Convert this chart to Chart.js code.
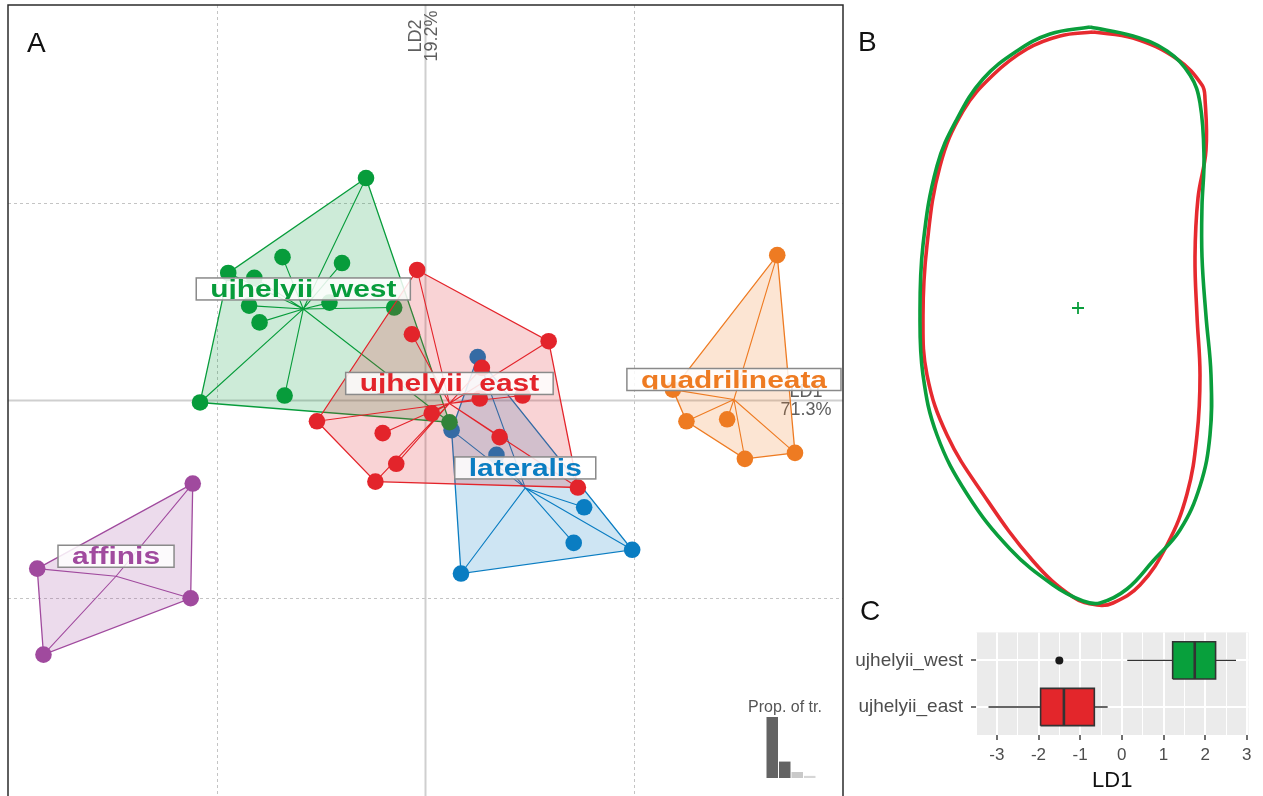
<!DOCTYPE html>
<html>
<head>
<meta charset="utf-8">
<script src="https://cdn.jsdelivr.net/npm/chart.js@4.4.1/dist/chart.umd.min.js"></script>
<style>
body { margin: 0; background: #fff; width: 1263px; height: 796px; overflow: hidden; position: relative; font-family: "Liberation Sans", Arial, sans-serif; }
canvas { position: absolute; }
#cA { left: 0; top: 0; }
#cEig { left: 740px; top: 696px; }
#cB { left: 850px; top: 0; }
#cC { left: 845px; top: 613px; }
.panel { position: absolute; font-size: 28px; line-height: 1; color: #111; }
</style>
</head>
<body>
<canvas id="cA" width="850" height="796"></canvas>
<canvas id="cEig" width="100" height="84"></canvas>
<canvas id="cB" width="413" height="620"></canvas>
<canvas id="cC" width="418" height="183"></canvas>
<div class="panel" style="left:27px; top:29px;">A</div>
<div class="panel" style="left:858px; top:28px;">B</div>
<div class="panel" style="left:860px; top:597px;">C</div>
<script>
// ---- Panel A: LDA scores per species ----
const groups = ['affinis', 'lateralis', 'quadrilineata', 'ujhelyii_west', 'ujhelyii_east'];
const groupColors = ['#a04a9e', '#0a7dc2', '#ee7b22', '#079c3b', '#e3242b'];

const affinisX = [-2.23, -3.72, -2.25, -3.66];
const affinisY = [-0.84, -1.70, -2.00, -2.57];
const lateralisX = [0.50, 0.25, 0.68, 1.52, 1.42, 1.98, 0.34];
const lateralisY = [0.44, -0.30, -0.55, -1.08, -1.44, -1.51, -1.75];
const quadrilineataX = [3.37, 2.37, 2.50, 2.89, 3.06, 3.54];
const quadrilineataY = [1.47, 0.11, -0.21, -0.19, -0.59, -0.53];
const westX = [-0.57, -1.37, -0.80, -1.89, -1.64, -0.92, -1.69, -1.59, -0.30, -1.35, -2.16, 0.23];
const westY = [2.25, 1.45, 1.39, 1.29, 1.24, 0.99, 0.96, 0.79, 0.94, 0.05, -0.02, -0.22];
const eastX = [-0.08, 1.18, -0.13, 0.54, 0.52, 0.93, -1.04, 0.06, -0.41, 0.71, -0.28, -0.48, 1.46];
const eastY = [1.32, 0.60, 0.67, 0.33, 0.02, 0.05, -0.21, -0.13, -0.33, -0.37, -0.64, -0.82, -0.88];

const axisNames = ['LD1', 'LD2'];
const axisPct = ['71.3%', '19.2%'];

// eigenvalue inset
const eigLabels = ['LD1', 'LD2', 'LD3', 'LD4'];
const eigProp = [71.3, 19.2, 7.0, 2.5];
const eigTitle = 'Prop. of tr.';

// ---- Panel B: mean outlines ----
const greenOutlineX = [0.12, 0.55, 0.89, 1.12, 1.22, 1.26, 1.24, 1.24, 1.28, 1.33, 1.32, 1.22, 1.02, 0.75, 0.49, 0.22, 0.05, -0.25, -0.68, -1.11, -1.41, -1.55, -1.58, -1.55, -1.41, -1.21, -0.95, -0.61, -0.28];
const greenOutlineY = [2.81, 2.72, 2.57, 2.33, 2.05, 1.50, 1.02, 0.51, -0.08, -0.67, -1.27, -1.78, -2.22, -2.53, -2.81, -2.95, -2.93, -2.77, -2.41, -1.86, -1.27, -0.67, -0.08, 0.63, 1.42, 1.89, 2.29, 2.57, 2.74];
const redOutlineX = [0.15, 0.55, 0.99, 1.24, 1.27, 1.28, 1.20, 1.17, 1.19, 1.22, 1.19, 1.09, 0.89, 0.62, 0.35, 0.19, -0.05, -0.45, -0.95, -1.31, -1.51, -1.55, -1.51, -1.38, -1.15, -0.85, -0.51, -0.18];
const redOutlineY = [2.76, 2.70, 2.49, 2.23, 2.09, 1.58, 1.10, 0.51, -0.08, -0.67, -1.27, -1.86, -2.37, -2.77, -2.95, -2.97, -2.89, -2.53, -1.86, -1.27, -0.67, -0.08, 0.63, 1.42, 1.97, 2.33, 2.59, 2.72];

// ---- Panel C: LD1 boxplot ----
const boxGroups = ['ujhelyii_east', 'ujhelyii_west'];
const boxMin = [-3.20, 0.13];
const boxQ1 = [-1.95, 1.22];
const boxMedian = [-1.39, 1.75];
const boxQ3 = [-0.66, 2.25];
const boxMax = [-0.34, 2.74];
const outlierGroup = ['ujhelyii_west'];
const outlierValue = [-1.50];
const boxColors = ['#e3262b', '#08a03c'];

Chart.defaults.font.family = '"Liberation Sans", Arial, sans-serif';
Chart.defaults.animation = false;
Chart.defaults.events = [];
Chart.defaults.layout.autoPadding = false;
Chart.defaults.plugins.legend.display = false;
Chart.defaults.plugins.tooltip.enabled = false;

function mean(a) { return a.reduce((s, v) => s + v, 0) / a.length; }

function alpha(hex, a) {
    const n = parseInt(hex.slice(1), 16);
    return `rgba(${n >> 16}, ${(n >> 8) & 255}, ${n & 255}, ${a})`;
}

// convex hull (monotone chain), closed
function hull(xs, ys) {
    const pts = xs.map((x, i) => ({ x, y: ys[i] })).sort((a, b) => a.x - b.x || a.y - b.y);
    const cross = (o, a, b) => (a.x - o.x) * (b.y - o.y) - (a.y - o.y) * (b.x - o.x);
    const lower = [], upper = [];
    for (const p of pts) {
        while (lower.length >= 2 && cross(lower[lower.length - 2], lower[lower.length - 1], p) <= 0) lower.pop();
        lower.push(p);
    }
    for (const p of pts.slice().reverse()) {
        while (upper.length >= 2 && cross(upper[upper.length - 2], upper[upper.length - 1], p) <= 0) upper.pop();
        upper.push(p);
    }
    const h = lower.slice(0, -1).concat(upper.slice(0, -1));
    h.push(h[0]);
    return h;
}

const groupX = [affinisX, lateralisX, quadrilineataX, westX, eastX];
const groupY = [affinisY, lateralisY, quadrilineataY, westY, eastY];

// build hull, star and points for each group (in paint order)
const datasetsA = [];
groups.forEach((g, i) => {
    const xs = groupX[i], ys = groupY[i];
    const cx = mean(xs), cy = mean(ys);
    const col = groupColors[i];
    datasetsA.push({
        type: 'line', data: hull(xs, ys), borderColor: col, borderWidth: 1.3,
        backgroundColor: alpha(col, 0.2), fill: 'shape', pointRadius: 0, tension: 0
    });
    const star = [];
    xs.forEach((x, j) => { star.push({ x: cx, y: cy }, { x, y: ys[j] }, { x: cx, y: null }); });
    datasetsA.push({
        type: 'line', data: star, borderColor: col, borderWidth: 1.1,
        pointRadius: 0, fill: false, spanGaps: false, tension: 0
    });
    datasetsA.push({
        type: 'scatter', data: xs.map((x, j) => ({ x, y: ys[j] })),
        backgroundColor: col, pointBackgroundColor: col, pointBorderWidth: 0, borderWidth: 0, pointRadius: 8.3
    });
});
// Chart.js paints lower order on top
datasetsA.forEach((d, i) => { d.order = datasetsA.length - i; });

const gridStep = 2;

const panelAPlugin = {
    id: 'panelA',
    beforeDatasetsDraw(chart) {
        const { ctx, chartArea: a, scales: { x, y } } = chart;
        ctx.save();
        // dashed grid
        ctx.strokeStyle = '#c4c4c4'; ctx.lineWidth = 1; ctx.setLineDash([3, 3]);
        for (let v = Math.ceil(x.min / gridStep) * gridStep; v <= x.max; v += gridStep) {
            if (v === 0 || v <= x.min || v >= x.max) continue;
            const px = Math.round(x.getPixelForValue(v)) + 0.5;
            ctx.beginPath(); ctx.moveTo(px, a.top); ctx.lineTo(px, a.bottom); ctx.stroke();
        }
        for (let v = Math.ceil(y.min / gridStep) * gridStep; v <= y.max; v += gridStep) {
            if (v === 0 || v <= y.min || v >= y.max) continue;
            const py = Math.round(y.getPixelForValue(v)) + 0.5;
            ctx.beginPath(); ctx.moveTo(a.left, py); ctx.lineTo(a.right, py); ctx.stroke();
        }
        // origin axes
        ctx.setLineDash([]);
        ctx.strokeStyle = '#cfcfcf'; ctx.lineWidth = 2;
        const x0 = x.getPixelForValue(0), y0 = y.getPixelForValue(0);
        ctx.beginPath(); ctx.moveTo(x0, a.top); ctx.lineTo(x0, a.bottom); ctx.stroke();
        ctx.beginPath(); ctx.moveTo(a.left, y0); ctx.lineTo(a.right, y0); ctx.stroke();
        // axis names
        ctx.fillStyle = '#5e5e5e';
        ctx.font = '18px "Liberation Sans", Arial, sans-serif';
        ctx.textAlign = 'center'; ctx.textBaseline = 'middle';
        ctx.save();
        ctx.translate(x0, a.top + 31);
        ctx.rotate(-Math.PI / 2);
        ctx.fillText(axisNames[1], 0, -9.5);
        ctx.fillText(axisPct[1], 0, 7);
        ctx.restore();
        ctx.fillText(axisNames[0], a.right - 37, y0 - 8);
        ctx.fillText(axisPct[0], a.right - 37, y0 + 10);
        ctx.restore();
    },
    afterDatasetsDraw(chart) {
        const { ctx, chartArea: a, scales: { x, y } } = chart;
        ctx.save();
        const stretch = 1.3;
        ctx.font = 'bold 23px "Liberation Sans", Arial, sans-serif';
        groups.forEach((g, i) => {
            const px = x.getPixelForValue(mean(groupX[i]));
            const py = y.getPixelForValue(mean(groupY[i]));
            const tw = ctx.measureText(g).width * stretch;
            const bw = tw + 28, bh = 22;
            const bx = px - bw / 2, by = py - 20 - bh / 2;
            ctx.fillStyle = 'rgba(255,255,255,0.85)';
            ctx.fillRect(bx, by, bw, bh);
            ctx.save();
            ctx.beginPath(); ctx.rect(bx, by, bw, bh - 1); ctx.clip();
            ctx.translate(px, by + bh - 3);
            ctx.scale(stretch, 1);
            ctx.textAlign = 'center'; ctx.textBaseline = 'alphabetic';
            ctx.fillStyle = groupColors[i];
            ctx.fillText(g, 0, 0);
            ctx.restore();
            ctx.strokeStyle = '#8a8a8a'; ctx.lineWidth = 1.5;
            ctx.strokeRect(bx, by, bw, bh);
        });
        // frame (bottom edge is cut off in the figure)
        ctx.strokeStyle = '#2b2b2b'; ctx.lineWidth = 1.5;
        ctx.beginPath();
        ctx.moveTo(a.left, a.bottom); ctx.lineTo(a.left, a.top);
        ctx.lineTo(a.right, a.top); ctx.lineTo(a.right, a.bottom);
        ctx.stroke();
        ctx.restore();
    }
};

new Chart(document.getElementById('cA'), {
    type: 'scatter',
    data: { datasets: datasetsA },
    options: {
        responsive: false,
        layout: { padding: { left: 8, right: 7, top: 5, bottom: 0 } },
        scales: {
            x: { display: false, min: -4, max: 4 },
            y: { display: false, min: -4, max: 4 }
        }
    },
    plugins: [panelAPlugin]
});

// eigenvalue inset, title drawn by hand so it is not squeezed into the bar width
const eigTitlePlugin = {
    id: 'eigTitle',
    afterDraw(chart) {
        const { ctx, chartArea: a } = chart;
        ctx.save();
        ctx.fillStyle = '#555';
        ctx.font = '16px "Liberation Sans", Arial, sans-serif';
        ctx.textAlign = 'center'; ctx.textBaseline = 'alphabetic';
        ctx.fillText(eigTitle, (a.left + a.right) / 2 - 6, a.top - 5);
        ctx.restore();
    }
};

new Chart(document.getElementById('cEig'), {
    type: 'bar',
    data: {
        labels: eigLabels,
        datasets: [{
            data: eigProp,
            backgroundColor: ['#636363', '#636363', '#c9c9c9', '#d6d6d6'],
            barPercentage: 0.92, categoryPercentage: 1
        }]
    },
    options: {
        responsive: false,
        layout: { padding: { left: 26, right: 24, top: 21, bottom: 2 } },
        scales: {
            x: { display: false },
            y: { display: false, min: 0, max: eigProp[0] }
        }
    },
    plugins: [eigTitlePlugin]
});

// ---- Panel B ----
const toPts = (xs, ys) => {
    const p = xs.map((x, i) => ({ x, y: ys[i] }));
    p.push(p[0]);
    return p;
};

new Chart(document.getElementById('cB'), {
    type: 'scatter',
    data: {
        datasets: [
            { data: [{ x: 0, y: 0 }], pointStyle: 'cross', pointRadius: 6, borderColor: '#0a9e3c', pointBorderColor: '#0a9e3c', pointBorderWidth: 1.8 },
            { data: toPts(greenOutlineX, greenOutlineY), showLine: true, borderColor: '#0a9e3c', borderWidth: 3.6, pointRadius: 0, tension: 0.4 },
            { data: toPts(redOutlineX, redOutlineY), showLine: true, borderColor: '#e62a2f', borderWidth: 3.6, pointRadius: 0, tension: 0.4 }
        ]
    },
    options: {
        responsive: false,
        layout: { padding: 0 },
        scales: {
            x: { display: false, min: -2.28, max: 1.85 },
            y: { display: false, min: -3.12, max: 3.08 }
        }
    }
});

// ---- Panel C ----
const half = 0.4;
const datasetsC = [];
boxGroups.forEach((g, i) => {
    const r = i + 1;
    datasetsC.push({
        type: 'line', borderColor: '#333', borderWidth: 1.3, pointRadius: 0, spanGaps: false,
        data: [{ x: boxMin[i], y: r }, { x: boxQ1[i], y: r }, { x: boxQ1[i], y: null },
               { x: boxQ3[i], y: r }, { x: boxMax[i], y: r }]
    });
    datasetsC.push({
        type: 'line', borderColor: '#333', borderWidth: 1.6, pointRadius: 0,
        backgroundColor: boxColors[i], fill: 'shape',
        data: [{ x: boxQ1[i], y: r - half }, { x: boxQ3[i], y: r - half }, { x: boxQ3[i], y: r + half },
               { x: boxQ1[i], y: r + half }, { x: boxQ1[i], y: r - half }]
    });
    datasetsC.push({
        type: 'line', borderColor: '#333', borderWidth: 2.6, pointRadius: 0,
        data: [{ x: boxMedian[i], y: r - half }, { x: boxMedian[i], y: r + half }]
    });
});
datasetsC.push({
    type: 'scatter', pointRadius: 4, backgroundColor: '#1a1a1a', pointBorderWidth: 0,
    data: outlierValue.map((v, i) => ({ x: v, y: boxGroups.indexOf(outlierGroup[i]) + 1 }))
});
datasetsC.forEach((d, i) => { d.order = datasetsC.length - i; });

const panelBg = {
    id: 'panelBg',
    beforeDraw(chart) {
        const { ctx, chartArea: a } = chart;
        ctx.save();
        ctx.fillStyle = '#ebebeb';
        ctx.fillRect(a.left, a.top, a.right - a.left, a.bottom - a.top);
        ctx.restore();
    }
};

new Chart(document.getElementById('cC'), {
    type: 'scatter',
    data: { datasets: datasetsC },
    options: {
        responsive: false,
        layout: { padding: { left: 0, right: 14.5, top: 10, bottom: 0 } },
        scales: {
            x: {
                min: -3.5, max: 3.04,
                afterFit: s => { s.height = 61; },
                border: { display: false },
                ticks: {
                    stepSize: 0.5, includeBounds: false, autoSkip: false, maxRotation: 0,
                    callback: v => Number.isInteger(v) ? String(v) : '',
                    color: '#4d4d4d', font: { size: 17 }, padding: 5
                },
                grid: {
                    color: '#ffffff',
                    lineWidth: c => Number.isInteger(c.tick.value) ? 2 : 1,
                    tickColor: c => Number.isInteger(c.tick.value) ? '#333' : 'rgba(0,0,0,0)',
                    tickLength: 5, tickWidth: 1.4
                },
                title: { display: true, text: 'LD1', color: '#111', font: { size: 22 }, padding: { top: 0, bottom: 2 } }
            },
            y: {
                min: 0.4, max: 2.6,
                afterFit: s => { s.width = 131; },
                afterBuildTicks: s => { s.ticks = boxGroups.map((g, i) => ({ value: i + 1 })); },
                border: { display: false },
                ticks: { callback: v => boxGroups[v - 1], color: '#4d4d4d', font: { size: 19 }, padding: 8 },
                grid: { color: '#ffffff', lineWidth: 2, tickColor: '#333', tickLength: 5, tickWidth: 1.4 }
            }
        }
    },
    plugins: [panelBg]
});
</script>
</body>
</html>
